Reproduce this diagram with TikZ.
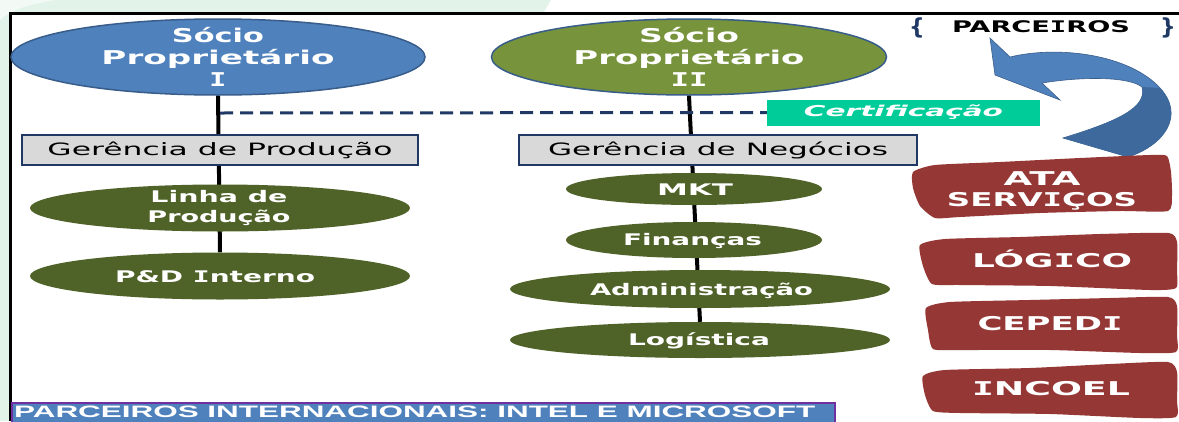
\documentclass[tikz,border=0pt]{standalone}
\usepackage{fontspec}
\usepackage{graphicx}
\setmainfont{DejaVu Sans}
\newfontfamily\bannerfont{Liberation Sans}
\newfontfamily\monofnt{DejaVu Sans Mono}
\usetikzlibrary{shapes.geometric}
\definecolor{mintc}{HTML}{E2F4EA}
\definecolor{sbluec}{HTML}{4F81BD}
\definecolor{sbluel}{HTML}{385D8A}
\definecolor{solivec}{HTML}{77933C}
\definecolor{dolivec}{HTML}{4F6228}
\definecolor{gboxc}{HTML}{D9D9D9}
\definecolor{navyc}{HTML}{1F3864}
\definecolor{certc}{HTML}{00CC99}
\definecolor{brickc}{HTML}{953735}
\definecolor{purpc}{HTML}{7030A0}
\definecolor{darrowc}{HTML}{3E699C}
\newcommand{\fw}[2]{\resizebox{#1pt}{\height}{#2}}
\newcommand{\barI}{{\monofnt I}}
\pgfdeclarelayer{bg}
\pgfdeclarelayer{lines}
\pgfsetlayers{bg,lines,main}
\begin{document}
\begin{tikzpicture}[x=1pt,y=-1pt,
  ell/.style={ellipse, inner sep=0pt, line width=1.5pt, draw=sbluel},
  dell/.style={ellipse, inner sep=0pt, fill=dolivec},
  wtxt/.style={text=white, inner sep=0pt, align=center, font=\bfseries\fontsize{16}{20}\selectfont},
  stxt/.style={text=white, inner sep=0pt, align=center, font=\bfseries\fontsize{19}{22}\selectfont},
  gbox/.style={rectangle, fill=gboxc, draw=navyc, line width=2pt, minimum height=30pt, inner sep=0pt, font=\fontsize{17}{20}\selectfont},
  conn/.style={line width=4pt, black},
  dashline/.style={navyc, line width=3pt, dash pattern=on 13pt off 7pt},
  rtxt/.style={text=white, inner sep=0pt, align=center, font=\bfseries\fontsize{19}{21}\selectfont},
  brush/.style={fill=brickc}
]
\useasboundingbox (0,0) rectangle (1179,421);
\begin{pgfonlayer}{bg}
  \fill[mintc] (0,0) rectangle (1179,421);
  \fill[white] (551,0) -- (1179,0) -- (1179,14) -- (543,14) -- cycle;
  \fill[white, opacity=0.6] (0,0) -- (55,0) .. controls (30,4) and (10,10) .. (0,20) -- cycle;
  \fill[white] (10,13.5) rectangle (1179,421);
  \draw[black, line width=3pt] (10,421) -- (10,13.5) -- (1179,13.5);
\end{pgfonlayer}

% partners' ellipses
\node[ell, fill=sbluec, minimum width=414pt, minimum height=76pt] (s1) at (218,57) {};
\node[stxt] (s1t) at (218,57) {\fw{92}{Sócio}\\\fw{233}{Proprietário}\\\fw{17}{\barI}};
\node[ell, fill=solivec, minimum width=395pt, minimum height=76pt] (s2) at (689,57) {};
\node[stxt] (s2t) at (689,57) {\fw{100}{Sócio}\\\fw{231}{Proprietário}\\\fw{37}{\barI\barI}};

% management boxes
\node[gbox, minimum width=396pt] (gp) at (220,150) {\fw{345}{Gerência de Produção}};
\node[gbox, minimum width=398pt] (gn) at (718,150) {\fw{340}{Gerência de Negócios}};

% certification
\node[rectangle, fill=certc, minimum width=273pt, minimum height=26pt, inner sep=0pt,
      text=white, font=\bfseries\itshape\fontsize{15}{18}\selectfont] (cert) at (903.5,112.5) {\fw{199}{Certificação}};
\coordinate (dst) at (220,113);

% left column
\node[dell, minimum width=380pt, minimum height=47pt] (lp) at (220,208) {};
\node[wtxt] (lpt) at (219,208) {\fw{137}{Linha de}\\\fw{143}{Produção}};
\node[dell, minimum width=380pt, minimum height=47pt] (pd) at (220,276) {};
\node[wtxt, anchor=base] (pdt) at (215,282) {\fw{200}{P\&D \barI nterno}};

% right column
\node[dell, minimum width=256pt, minimum height=32pt] (mkt) at (694,189) {};
\node[wtxt, anchor=base] (mktt) at (695,195) {\fw{76}{MKT}};
\node[dell, minimum width=256pt, minimum height=36pt] (fin) at (694,240) {};
\node[wtxt, anchor=base] (fint) at (692.5,245) {\fw{139}{Finanças}};
\node[dell, minimum width=380pt, minimum height=38pt] (adm) at (700,289) {};
\node[wtxt, anchor=base] (admt) at (701.5,295) {\fw{223}{Administração}};
\node[dell, minimum width=380pt, minimum height=36pt] (log) at (700,340) {};
\node[wtxt, anchor=base] (logt) at (699,345) {\fw{142}{Logística}};

% connectors
\begin{pgfonlayer}{lines}
  \draw[conn] (s1.south) -- (pd.north);
  \draw[conn] (s2.south) -- (log.north);
  \draw[dashline] (dst) -- (cert.west);
\end{pgfonlayer}

% banner
\node[rectangle, fill=sbluec, draw=purpc, line width=1.5pt, minimum width=823pt, minimum height=30pt, inner sep=0pt] (bb) at (423.5,418) {};
\node[anchor=base west, inner sep=0pt, text=white, font=\bannerfont\bfseries\fontsize{16.5}{18}\selectfont] (bt) at (14,417) {\fw{801}{PARCEIROS INTERNACIONAIS: INTEL E MICROSOFT}};

% partners header
\node[anchor=base, inner sep=0pt, text=navyc, font=\bfseries\fontsize{22}{24}\selectfont] (lb) at (917,34) {\{};
\node[anchor=base, inner sep=0pt, text=navyc, font=\bfseries\fontsize{22}{24}\selectfont] (rb) at (1168,34) {\}};
\node[anchor=base, inner sep=0pt, text=black, font=\bfseries\fontsize{16}{18}\selectfont] (parc) at (1041,32) {\fw{178}{PARCE\barI ROS}};

% curved arrow
\fill[sbluec, draw=sbluel, line width=0.6pt] (990,38) -- (1010,57)
  .. controls (1060,45) and (1130,55) .. (1160,88)
  .. controls (1185,115) and (1165,145) .. (1128,157)
  -- (1063,138)
  .. controls (1115,122) and (1148,108) .. (1142,87)
  .. controls (1130,77) and (1085,76) .. (1042,83)
  -- (1060,100) -- (995,75) -- cycle;
\fill[darrowc] (1142,87) -- (1160,88)
  .. controls (1185,115) and (1165,145) .. (1128,157)
  -- (1063,138)
  .. controls (1115,122) and (1148,108) .. (1142,87) -- cycle;

% partner brush boxes
\fill[brush] plot[smooth cycle, tension=0.35] coordinates {(913,172) (935,165) (1000,162) (1080,158) (1150,155) (1167,156) (1171,172) (1172,195) (1168,211) (1120,211) (1040,213) (960,217) (935,218) (920,206) (913,188)};
\fill[brush] plot[smooth cycle, tension=0.35] coordinates {(920,245) (945,239) (1020,237) (1100,234) (1168,233) (1177,242) (1177,270) (1176,288) (1150,290) (1050,286) (960,285) (932,284) (923,266)};
\fill[brush] plot[smooth cycle, tension=0.35] coordinates {(926,308) (950,302) (1030,300) (1110,298) (1168,297) (1177,306) (1177,335) (1176,352) (1140,353) (1050,350) (960,350) (933,349) (928,330)};
\fill[brush] plot[smooth cycle, tension=0.35] coordinates {(923,376) (945,370) (1030,368) (1110,364) (1168,362) (1177,372) (1177,400) (1176,417) (1140,418) (1050,414) (960,413) (933,411) (925,395)};

\node[rtxt] (ata) at (1042,191) {\fw{77}{ATA}\\\fw{190}{SERV\barI ÇOS}};
\node[rtxt, anchor=base] (lgc) at (1052,267) {\fw{160}{LÓG\barI CO}};
\node[rtxt, anchor=base] (cep) at (1050,330) {\fw{145}{CEPED\barI}};
\node[rtxt, anchor=base] (inc) at (1051,395) {\fw{158}{\barI NCOEL}};
\end{tikzpicture}
\end{document}
